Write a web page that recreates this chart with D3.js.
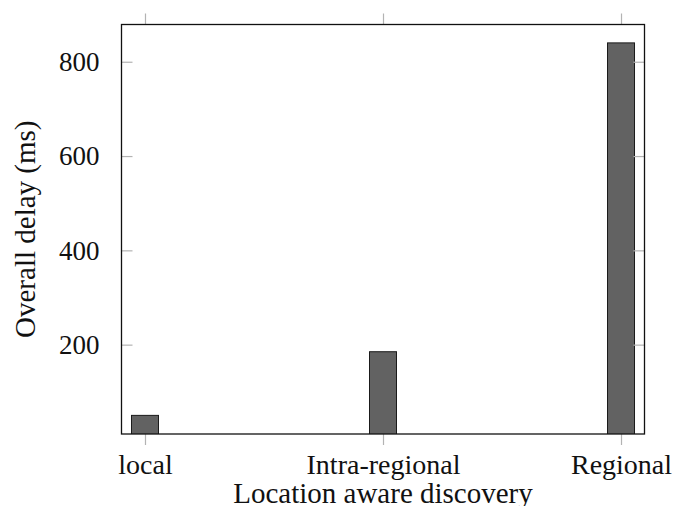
<html>
<meta charset="utf-8">
<body style="margin:0;background:#fff">
<script src="https://d3js.org/d3.v7.min.js"></script>
<div id="my_dataviz"></div>
<script>

    // data
    var categories = ["local", "Intra-regional", "Regional"]
    var delays = [50, 185, 840]
    var yTicks = [200, 400, 600, 800]

    var margin = {left: 121.5, top: 24.5},
        width = 523,
        height = 409.5

    var serif = "'Liberation Serif', 'Times New Roman', serif"

    var svg = d3.select("#my_dataviz")
      .append("svg")
        .attr("width", 673)
        .attr("height", 506)
        .style("font-family", serif)
      .append("g")
        .attr("transform", "translate(" + margin.left + "," + margin.top + ")")

    var x = d3.scalePoint()
      .domain(categories)
      .range([0, width])
      .padding(0.0987)

    var y = d3.scaleLinear()
      .domain([10.5, 879])
      .range([height, 0])

    var tickColor = "#b3b3b3"

    // clip so bars stop at the axis like pgfplots does
    svg.append("clipPath").attr("id", "plotclip")
      .append("rect").attr("width", width).attr("height", height)

    // bars
    svg.append("g")
      .attr("clip-path", "url(#plotclip)")
      .selectAll("rect")
      .data(categories)
      .enter()
      .append("rect")
        .attr("x", function(d) { return x(d) - 13.5 })
        .attr("width", 27)
        .attr("y", function(d, i) { return y(delays[i]) })
        .attr("height", function(d, i) { return y(0) - y(delays[i]) })
        .style("fill", "#626262")
        .style("stroke", "#1a1a1a")
        .style("stroke-width", 1)

    // x ticks: outside, top and bottom
    var xb = svg.append("g")
      .attr("transform", "translate(0," + height + ")")
      .call(d3.axisBottom(x).tickSize(11).tickPadding(8))
    var xt = svg.append("g")
      .call(d3.axisTop(x).tickSize(11).tickFormat(""))

    // y ticks: inside, left and right
    var yl = svg.append("g")
      .call(d3.axisLeft(y).tickValues(yTicks).tickSize(-11).tickPadding(22))
    var yr = svg.append("g")
      .attr("transform", "translate(" + width + ",0)")
      .call(d3.axisRight(y).tickValues(yTicks).tickSize(-11).tickFormat(""))

    ;[xb, xt, yl, yr].forEach(function(g) {
      g.attr("font-family", serif)
      g.select(".domain").remove()
      g.selectAll(".tick line").attr("stroke", tickColor).attr("stroke-width", 1.2)
    })

    xb.selectAll(".tick text")
      .attr("fill", "#111")
      .attr("font-size", 28)
      .attr("dy", null)
      .attr("y", 39.5)
    yl.selectAll(".tick text")
      .attr("fill", "#111")
      .attr("font-size", 27)
      .attr("dy", "0.33em")

    // frame
    svg.append("rect")
      .attr("width", width)
      .attr("height", height)
      .style("fill", "none")
      .style("stroke", "#111")
      .style("stroke-width", 1.3)

    // axis titles
    svg.append("text")
      .attr("x", width / 2)
      .attr("y", height + 68.5)
      .attr("text-anchor", "middle")
      .attr("fill", "#111")
      .style("font-size", "29px")
      .text("Location aware discovery")

    svg.append("text")
      .attr("transform", "translate(" + (35 - margin.left) + "," + (height / 2) + ") rotate(-90)")
      .attr("text-anchor", "middle")
      .attr("fill", "#111")
      .style("font-size", "29px")
      .text("Overall delay (ms)")

</script>
</body>
</html>
